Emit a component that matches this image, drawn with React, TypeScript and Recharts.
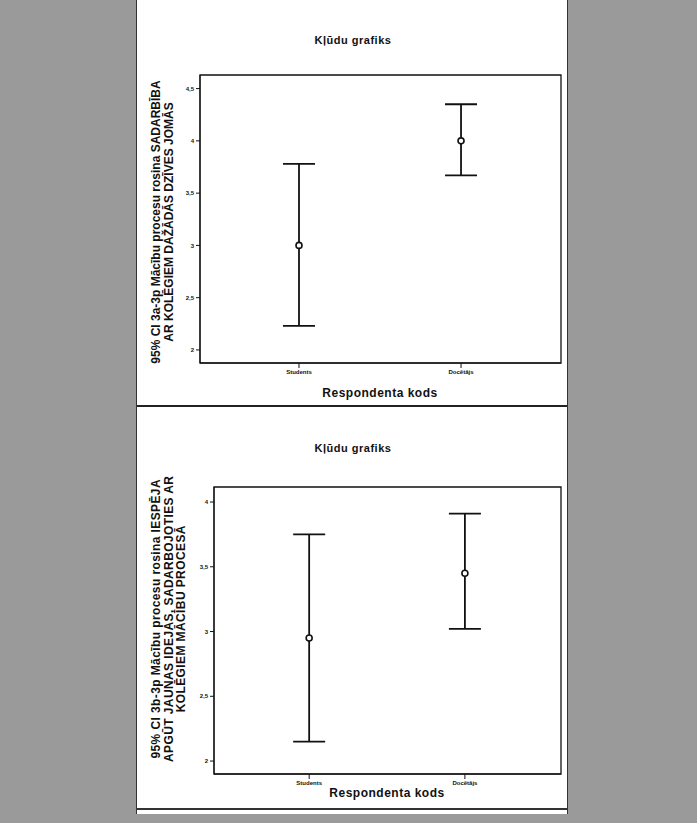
import { ComposedChart, Scatter, ErrorBar, XAxis, YAxis, ReferenceArea } from 'recharts';

// Respondent groups on the x axis
const categories = ['Students', 'Docētājs'];
const catPositions = [1, 2];

// Chart 1: 3a-3p SADARBĪBA
const topMeans = [3.0, 4.0];
const topLower = [2.23, 3.67];
const topUpper = [3.78, 4.35];
const topTicks = [2, 2.5, 3, 3.5, 4, 4.5];

// Chart 2: 3b-3p IESPĒJA
const bottomMeans = [2.95, 3.45];
const bottomLower = [2.15, 3.02];
const bottomUpper = [3.75, 3.91];
const bottomTicks = [2, 2.5, 3, 3.5, 4];

const FONT = '"Liberation Sans", Arial, sans-serif';

const buildRows = (means: number[], lower: number[], upper: number[]) =>
  categories.map((name, i) => ({
    pos: catPositions[i],
    name,
    mean: means[i],
    err: [means[i] - lower[i], upper[i] - means[i]],
  }));

const Dot = (props: any) => {
  const { cx, cy } = props;
  return <circle cx={cx} cy={cy} r={3} fill="#fff" stroke="#111" strokeWidth={1.6} />;
};

const comma = (v: number) => String(v).replace('.', ',');

type PanelProps = {
  rows: any[];
  yDomain: [number, number];
  ticks: number[];
  width: number;
  height: number;
  margin: { top: number; right: number; bottom: number; left: number };
};

const xDomain: [number, number] = [0.389, 2.617];

const ErrorPanel = ({ rows, yDomain, ticks, width, height, margin }: PanelProps) => (
  <ComposedChart width={width} height={height} data={rows} margin={margin}>
    <XAxis
      dataKey="pos"
      type="number"
      domain={xDomain}
      ticks={catPositions}
      allowDataOverflow
      tickFormatter={(v: number) => categories[v - 1] ?? ''}
      tickSize={5}
      height={20}
      stroke="#111"
      tick={{ fontSize: 6, fill: '#111', fontFamily: FONT, fontWeight: 700 }}
    />
    <YAxis
      type="number"
      domain={yDomain}
      ticks={ticks}
      allowDataOverflow
      tickFormatter={comma}
      tickSize={4}
      width={30}
      stroke="#111"
      tick={{ fontSize: 6, fill: '#111', fontFamily: FONT, fontWeight: 700 }}
    />
    <ReferenceArea
      x1={xDomain[0]}
      x2={xDomain[1]}
      y1={yDomain[0]}
      y2={yDomain[1]}
      fill="none"
      fillOpacity={0}
      stroke="#111"
      strokeWidth={1.3}
      ifOverflow="visible"
    />
    <Scatter dataKey="mean" shape={<Dot />} isAnimationActive={false}>
      <ErrorBar dataKey="err" direction="y" width={16} stroke="#111" strokeWidth={1.8} />
    </Scatter>
  </ComposedChart>
);

const textBase = { fontFamily: FONT, fontWeight: 700, color: '#111', position: 'absolute' as const };

const RotatedLabel = ({ cx, cy, lines, fontSize, lineHeight, spacing }: { cx: number; cy: number; lines: string[]; fontSize: number; lineHeight: number; spacing: number }) => {
  const w = 380;
  const h = lines.length * lineHeight;
  return (
    <div
      style={{
        ...textBase,
        left: cx - w / 2,
        top: cy - h / 2,
        width: w,
        height: h,
        fontSize,
        lineHeight: `${lineHeight}px`,
        letterSpacing: spacing,
        textAlign: 'center',
        transform: 'rotate(-90deg)',
        transformOrigin: 'center',
        whiteSpace: 'nowrap',
      }}
    >
      {lines.map((l) => (
        <div key={l}>{l}</div>
      ))}
    </div>
  );
};

const CenterText = ({ cx, cy, text, fontSize }: { cx: number; cy: number; text: string; fontSize: number }) => (
  <div
    style={{
      ...textBase,
      left: cx - 150,
      top: cy - fontSize * 0.6,
      width: 300,
      fontSize,
      lineHeight: `${fontSize * 1.2}px`,
      textAlign: 'center',
      letterSpacing: 0.5,
    }}
  >
    {text}
  </div>
);

export default function App() {
  const topRows = buildRows(topMeans, topLower, topUpper);
  const bottomRows = buildRows(bottomMeans, bottomLower, bottomUpper);

  return (
    <div style={{ position: 'absolute', left: 0, top: 0, width: 697, height: 823, background: '#9a9a9a', overflow: 'hidden' }}>
      {/* white scanned page */}
      <div style={{ position: 'absolute', left: 136, top: 0, width: 430, height: 814, background: '#fff', borderLeft: '1px solid #333', borderRight: '1px solid #333' }} />
      <div style={{ position: 'absolute', left: 137, top: 405, width: 430, height: 2, background: '#222' }} />
      <div style={{ position: 'absolute', left: 137, top: 808, width: 430, height: 2, background: '#333' }} />

      <div style={{ position: 'absolute', left: 137, top: 0 }}>
        <ErrorPanel rows={topRows} yDomain={[1.875, 4.63]} ticks={topTicks} width={430} height={406} margin={{ top: 75, right: 6, bottom: 23, left: 33 }} />
      </div>
      <div style={{ position: 'absolute', left: 137, top: 407 }}>
        <ErrorPanel rows={bottomRows} yDomain={[1.9, 4.116]} ticks={bottomTicks} width={430} height={402} margin={{ top: 80, right: 6, bottom: 15, left: 47 }} />
      </div>

      <CenterText cx={353} cy={41} text="Kļūdu grafiks" fontSize={11} />
      <CenterText cx={380} cy={393} text="Respondenta kods" fontSize={12} />
      <CenterText cx={353} cy={449} text="Kļūdu grafiks" fontSize={11} />
      <CenterText cx={387} cy={793} text="Respondenta kods" fontSize={12} />

      <RotatedLabel
        cx={163}
        cy={222}
        fontSize={12}
        lineHeight={13}
        spacing={0}
        lines={['95% CI 3a-3p Mācību procesu rosina SADARBĪBA', 'AR KOLĒGIEM DAŽĀDĀS DZĪVES JOMĀS']}
      />
      <RotatedLabel
        cx={169}
        cy={619}
        fontSize={12}
        lineHeight={12.5}
        spacing={0.4}
        lines={['95% CI 3b-3p Mācību procesu rosina IESPĒJA', 'APGŪT JAUNAS IDEJAS, SADARBOJOTIES AR', 'KOLĒGIEM MĀCĪBU PROCESĀ']}
      />
    </div>
  );
}
